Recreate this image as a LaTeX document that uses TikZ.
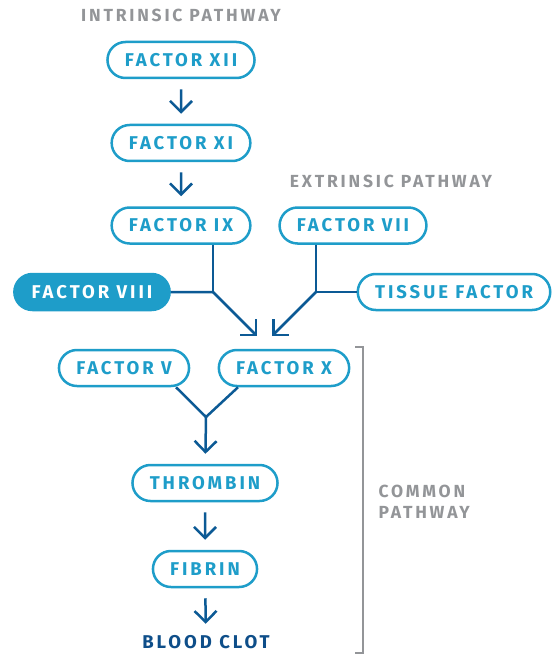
\documentclass[tikz,border=0pt]{standalone}
\usepackage{fontspec}
\setmainfont{Fira Sans}
\usetikzlibrary{arrows.meta,shapes.misc}
\definecolor{boxblue}{HTML}{1E9DC9}
\definecolor{arrowblue}{HTML}{0C5A95}
\definecolor{clotblue}{HTML}{0E4E89}
\definecolor{labelgray}{HTML}{939598}

\begin{document}
\begin{tikzpicture}[x=1pt,y=-1pt,
  every node/.append style={font=\fontsize{18.5}{22}\selectfont\bfseries\addfontfeatures{LetterSpace=16}},
  line/.style={draw=arrowblue,line width=2.5pt},
  link/.style={line,-{Straight Barb[length=11pt,width=22pt]},shorten <=10pt,shorten >=10pt}]
  \tikzstyle{factor} = [rounded rectangle,draw=boxblue,line width=2.5pt,text=boxblue,
    minimum height=36pt,inner xsep=16pt,inner ysep=0pt]
  \tikzstyle{cofactor} = [factor,fill=boxblue,text=white]
  \tikzstyle{word} = [text=labelgray,font=\fontsize{17.5}{21}\selectfont\bfseries\addfontfeatures{LetterSpace=16}]
  \useasboundingbox (0,0) rectangle (553,655);
  % intrinsic
  \node (intr) [word] at (181,15) {INTRINSIC PATHWAY};
  \node (f12) [factor] at (181,60) {FACTOR XII};
  \node (f11) [factor] at (181,143) {FACTOR XI};
  \node (f9) [factor] at (181,225.5) {FACTOR IX};
  \node (f8) [cofactor] at (92,292) {FACTOR VIII};
  % extrinsic
  \node (extr) [word] at (391,181) {EXTRINSIC PATHWAY};
  \node (f7) [factor] at (353,225.5) {FACTOR VII};
  \node (tf) [factor] at (454,292) {TISSUE FACTOR};
  % common
  \node (f5) [factor] at (124,368) {FACTOR V};
  \node (f10) [factor] at (284,368) {FACTOR X};
  \node (thr) [factor] at (205,483) {THROMBIN};
  \node (fib) [factor] at (205,569) {FIBRIN};
  \node (clot) [text=clotblue] at (206,642) {BLOOD CLOT};
  \node (common) [word,anchor=west,align=left] at (375,502) {COMMON\\PATHWAY};
  \draw[labelgray,line width=1.2pt] (355,347) -- (363,347) -- (363,653) -- (355,653);

  \coordinate (ixjoin) at (213,292);
  \coordinate (viijoin) at (316,292);
  \coordinate (tipL) at (257,336);
  \coordinate (tipR) at (272,336);
  \coordinate (vjoin) at (206,417);

  \draw[link] (f12) -- (f11);
  \draw[link] (f11) -- (f9);
  \draw[line] (f9.south -| ixjoin) -- (ixjoin);
  \draw[line] (f8) -- (ixjoin);
  \draw[link,shorten <=0pt,shorten >=0pt] (ixjoin) -- (tipL);
  \draw[line] (f7.south -| viijoin) -- (viijoin);
  \draw[line] (tf) -- (viijoin);
  \draw[link,shorten <=0pt,shorten >=0pt] (viijoin) -- (tipR);
  \draw[line] ([xshift=52pt]f5.south) -- (vjoin) -- ([xshift=-46pt]f10.south);
  \draw[link,shorten <=0pt] (vjoin) -- (thr);
  \draw[link] (thr) -- (fib);
  \draw[link,shorten >=8pt] (fib) -- (clot);
\end{tikzpicture}
\end{document}
